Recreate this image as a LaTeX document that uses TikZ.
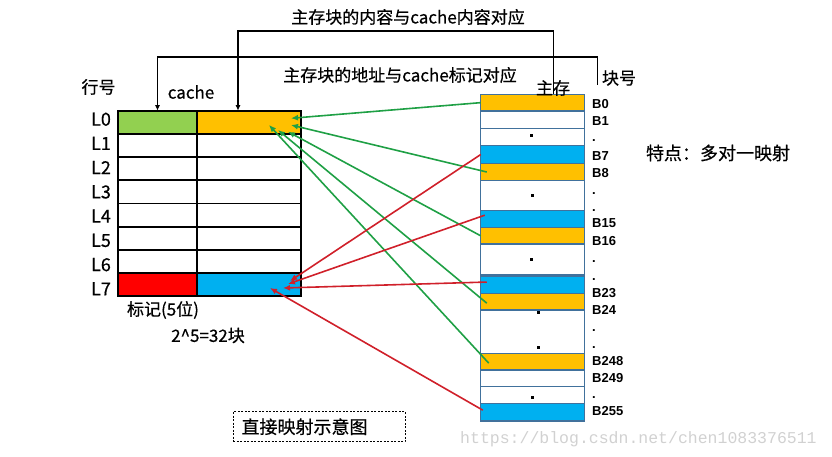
\documentclass[tikz,border=0pt]{standalone}
\usepackage{fontspec}
\setmainfont{Noto Sans CJK SC}[FakeBold=0.5]
\newfontfamily\bfont{Liberation Sans}
\newfontfamily\wmfont{Liberation Mono}
\usepackage{tikz}
\usetikzlibrary{positioning,arrows.meta,calc}
\usepackage{xcolor}
\definecolor{blkorange}{HTML}{FFC000}
\definecolor{blkblue}{HTML}{00B0F0}
\definecolor{taggreen}{HTML}{92D050}
\definecolor{tagred}{HTML}{FF0000}
\definecolor{blkedge}{HTML}{41719C}
\definecolor{linkgreen}{HTML}{1FA045}
\definecolor{linkred}{HTML}{D0202A}
\tikzset{
  cell/.style={draw=black, line width=1.8pt, minimum height=23.2pt, inner sep=0pt, outer sep=0pt},
  blk/.style={draw=blkedge, line width=1.1pt, minimum width=103.5pt, inner sep=0pt, outer sep=0pt},
  blklbl/.style={font=\bfont\bfseries\fontsize{13}{13}\selectfont, anchor=base west, inner sep=0pt},
  glink/.style={draw=linkgreen, line width=1.6pt, -{Latex[length=7pt,width=6pt]}},
  rlink/.style={draw=linkred, line width=1.6pt, -{Latex[length=7pt,width=6pt]}},
  bracket/.style={line width=1.5pt, -{Latex[length=5.5pt,width=5pt]}}
}

\begin{document}
\begin{tikzpicture}[x=1pt, y=-1pt, >=Latex, font=\fontsize{17}{17}\selectfont]
  \useasboundingbox (0,0) rectangle (832,457);

  % cache lines
  \foreach \i/\tc/\lc in {0/taggreen/blkorange,1/white/white,2/white/white,3/white/white,
                          4/white/white,5/white/white,6/white/white,7/tagred/blkblue}{
    \node[cell, fill=\tc, minimum width=79pt] (tag\i) at (157.5,{122.3+23.2*\i}) {};
    \node[cell, fill=\lc, minimum width=104pt] (line\i) at (249,{122.3+23.2*\i}) {};
    \node[anchor=base, font=\fontsize{18}{18}\selectfont, inner sep=0pt] (L\i) at (101,{125.7+24.24*\i}) {L\i};
  }
  \node (rowno) at (98.5,87) {行号};
  \node (cachelbl) at (191,92) {cache};
  \node (taglbl) at (163,310) {标记(5位)};
  \node (tagcnt) at (208,335.5) {2\textasciicircum5=32块};

  % main memory blocks
  \foreach \n/\t/\b/\c in {B0/94.3/111/blkorange, B1/111/128.3/white, d1/128.3/145.7/white,
      B7/145.7/163.3/blkblue, B8/163.3/180.7/blkorange, d2/180.7/210.7/white,
      B15/210.7/227.7/blkblue, B16/227.7/244/blkorange, d3/244/274.3/white,
      B23/276/293.3/blkblue, B24/293.3/310/blkorange, d4/310/353.3/white,
      B248/353.3/370/blkorange, B249/370/386.3/white, d5/386.7/403.3/white,
      B255/403.3/421/blkblue}{
    \pgfmathsetmacro\h{\b-\t}
    \node[blk, fill=\c, minimum height=\h pt] (\n) at (532.5,{(\t+\b)/2}) {};
  }
  \foreach \x/\y in {531/136, 532/195.5, 531/259.5, 538/312, 538/347.5, 532/397}
    \fill (\x-1.5,\y-1.5) rectangle (\x+1.5,\y+1.5);

  \foreach \txt/\y [count=\k] in {B0/109, B1/125.7, ./141.7, B7/160.7, B8/177.7, ./194, ./211.7,
      B15/227.7, B16/245.7, ./262.5, ./280, B23/297.3, B24/314.3, ./331, ./348.3,
      B248/365.3, B249/382.3, ./398.3, B255/415.7}
    \node[blklbl] (num\k) at (592,\y) {\txt};

  \node (mm) at (553,88) {主存};
  \node (blkno) at (619,78) {块号};
  \node[font=\fontsize{18}{18}\selectfont] (feature) at (718,153) {特点：多对一映射};

  % correspondences
  \node (t1) at (408,17) {主存块的内容与cache内容对应};
  \node (t2) at (400,75) {主存块的地址与cache标记对应};
  \coordinate (top1) at (0,31);
  \coordinate (top2) at (597.5,57);
  \coordinate (blkend) at (597.5,85);
  \draw[bracket] ([xshift=21pt]B0.north) -- ([xshift=21pt]B0.north |- top1) -| ([xshift=-11pt]line0.north);
  \draw[bracket] (blkend) -- (top2) -| (tag0.north);

  % mapping arrows
  \draw[glink] (B0.west) -- ([shift={(-10,-4)}]line0.east);
  \draw[glink] ([shift={(6,0)}]B8.west) -- ([shift={(-10,2.7)}]line0.east);
  \draw[glink] (B16.west) -- ([shift={(-13,9.4)}]line0.east);
  \draw[glink] ([shift={(6,1.5)}]B24.west) -- ([shift={(-23,7.7)}]line0.east);
  \draw[glink] ([shift={(8,1.5)}]B248.west) -- ([shift={(-32,2.7)}]line0.east);
  \draw[rlink] (B7.west) -- ([shift={(-11,-3.7)}]line7.east);
  \draw[rlink] ([shift={(4,-4)}]B15.west) -- ([shift={(-13,-0.7)}]line7.east);
  \draw[rlink] ([shift={(6,-2.6)}]B23.west) -- ([shift={(-18,3.3)}]line7.east);
  \draw[rlink] ([shift={(2,-2)}]B255.west) -- ([shift={(-31,3.3)}]line7.east);

  \node[draw, line width=1pt, dash pattern=on 2pt off 1.5pt, text width=155pt, inner xsep=8.5pt,
        minimum height=30pt, align=left, font=\fontsize{18}{18}\selectfont] (caption) at (319,426.7) {直接映射示意图};
  \node[anchor=base west, inner sep=0pt, text=black!18, font=\wmfont\fontsize{16.5}{16.5}\selectfont] (wm) at (460,443) {https://blog.csdn.net/chen1083376511};
\end{tikzpicture}
\end{document}
